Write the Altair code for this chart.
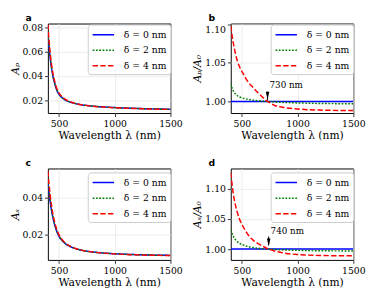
import altair as alt
import pandas as pd

# ---------------- data ----------------
wavelength = [400, 410, 420, 430, 445, 460, 480, 500, 530, 560, 600, 650, 700,
              730, 740, 800, 900, 1000, 1100, 1200, 1300, 1400, 1500]
series_labels = ["δ = 0 nm", "δ = 2 nm", "δ = 4 nm"]
series_colors = ["#0000ff", "#008000", "#ff0000"]
series_dashes = [[1, 0], [1.8, 1.6], [5.5, 2.4]]
x_ticks = [500, 1000, 1500]

# panel a: A_p
ap_d0 = [0.0752, 0.0640, 0.0553, 0.0482, 0.0400, 0.0343, 0.0285, 0.0250, 0.0220, 0.0201, 0.0186, 0.0173,
         0.0164, 0.0160, 0.0159, 0.0153, 0.0146, 0.0141, 0.0137, 0.0134, 0.0131, 0.0129, 0.0127]
ap_d2 = [0.07693, 0.06515, 0.05610, 0.04877, 0.04037, 0.03455, 0.02867, 0.02512, 0.02208, 0.02015, 0.01863,
         0.01732, 0.01640, 0.01600, 0.01590, 0.01529, 0.01458, 0.01407, 0.01367, 0.01337, 0.01306, 0.01286, 0.01266]
ap_d4 = [0.08257, 0.06957, 0.05961, 0.05157, 0.04240, 0.03608, 0.02977, 0.02598, 0.02268, 0.02059, 0.01893,
         0.01748, 0.01646, 0.01600, 0.01589, 0.01522, 0.01448, 0.01396, 0.01355, 0.01325, 0.01295, 0.01275, 0.01255]

# panel b: A_p / A_0
rb_d0 = [1.0] * 23
rb_d2 = [1.0230, 1.0180, 1.0145, 1.0118, 1.0092, 1.0074, 1.0058, 1.0047, 1.0035, 1.0026, 1.0017, 1.0009,
         1.0003, 1.0000, 0.9999, 0.9992, 0.9986, 0.9981, 0.9977, 0.9974, 0.9972, 0.9971, 0.9970]
rb_d4 = [1.0980, 1.0870, 1.0780, 1.0700, 1.0600, 1.0520, 1.0445, 1.0390, 1.0310, 1.0245, 1.0180, 1.0105,
         1.0036, 1.0000, 0.9992, 0.9945, 0.9917, 0.9902, 0.9893, 0.9888, 0.9885, 0.9883, 0.9882]

# panel c: A_s
as_d0 = [0.0486, 0.0430, 0.0382, 0.0341, 0.0292, 0.0254, 0.0216, 0.0189, 0.0164, 0.0147, 0.0133, 0.0121,
         0.0113, 0.0109, 0.0108, 0.0103, 0.0097, 0.0093, 0.0090, 0.0088, 0.0086, 0.0085, 0.0084]
as_d2 = [0.05016, 0.04416, 0.03906, 0.03474, 0.02964, 0.02570, 0.02181, 0.01905, 0.01649, 0.01476, 0.01333,
         0.01212, 0.01131, 0.01090, 0.01080, 0.01029, 0.00969, 0.00928, 0.00898, 0.00878, 0.00858, 0.00847, 0.00837]
as_d4 = [0.05477, 0.04773, 0.04185, 0.03696, 0.03126, 0.02692, 0.02266, 0.01967, 0.01691, 0.01503, 0.01350,
         0.01220, 0.01134, 0.01091, 0.01080, 0.01026, 0.00963, 0.00922, 0.00891, 0.00871, 0.00851, 0.00841, 0.00831]

# panel d: A_s / A_0
rd_d0 = [1.0] * 23
rd_d2 = [1.0320, 1.0270, 1.0225, 1.0188, 1.0150, 1.0120, 1.0095, 1.0077, 1.0055, 1.0040, 1.0026, 1.0013,
         1.0005, 1.0002, 1.0000, 0.9993, 0.9985, 0.9980, 0.9976, 0.9973, 0.9971, 0.9970, 0.9969]
rd_d4 = [1.1270, 1.1100, 1.0955, 1.0840, 1.0705, 1.0600, 1.0490, 1.0410, 1.0310, 1.0225, 1.0150, 1.0085,
         1.0035, 1.0007, 1.0000, 0.9965, 0.9928, 0.9910, 0.9900, 0.9894, 0.9891, 0.9889, 0.9888]

# annotations (crossing wavelength, arrow tip / tail, text baseline)
ann_b = {"wl": [730], "tip": [1.0013], "tail": [1.0127], "head": [1.0075], "ty": [1.0171], "label": ["730 nm"]}
ann_d = {"wl": [740], "tip": [1.0065], "tail": [1.0210], "head": [1.0110], "ty": [1.0253], "label": ["740 nm"]}

panel_letters = ["a", "b", "c", "d"]

SERIF = "DejaVu Serif"


def panel(vals, ydomain, yticks, ytitle, letter, legend_y, height, ann=None, yflush=False):
    df = pd.DataFrame({
        "wl": wavelength * 3,
        "val": vals[0] + vals[1] + vals[2],
        "series": [s for s in series_labels for _ in wavelength],
    })
    leg = alt.Legend(orient="none", legendX=41, legendY=legend_y, title=None)
    yaxis = alt.Axis(values=yticks, format=".2f", title=ytitle, labelFlush=2 if yflush else False)
    lines = alt.Chart(df).mark_line(strokeWidth=1.5, interpolate="monotone", clip=True).encode(
        x=alt.X("wl:Q", scale=alt.Scale(domain=[400, 1500], nice=False, zero=False),
                axis=alt.Axis(values=x_ticks, format="d", title="Wavelength λ (nm)", labelFlush=False)),
        y=alt.Y("val:Q", scale=alt.Scale(domain=ydomain, nice=False, zero=False), axis=yaxis),
        color=alt.Color("series:N", scale=alt.Scale(domain=series_labels, range=series_colors), legend=leg),
        strokeDash=alt.StrokeDash("series:N", scale=alt.Scale(domain=series_labels, range=series_dashes),
                                  legend=leg),
    )
    tag = alt.Chart(pd.DataFrame({"letter": [letter]})).mark_text(
        align="left", baseline="alphabetic", font="DejaVu Sans", fontWeight="bold", fontSize=9.5,
        color="black").encode(x=alt.value(-23), y=alt.value(-3), text="letter:N")
    layers = [lines, tag]
    if ann is not None:
        adf = pd.DataFrame(ann)
        rule = alt.Chart(adf).mark_rule(color="black", strokeWidth=1).encode(
            x="wl:Q", y="tail:Q", y2="tip:Q")
        head = alt.Chart(adf).mark_point(shape="M-0.45,-1L0.45,-1L0,1Z", filled=True, color="black",
                                         opacity=1, size=64).encode(x="wl:Q", y="head:Q")
        text = alt.Chart(adf).mark_text(align="left", baseline="alphabetic", dx=2, font=SERIF,
                                        fontSize=9, color="black").encode(x="wl:Q", y="ty:Q", text="label:N")
        layers += [rule, head, text]
    return alt.layer(*layers).properties(width=126, height=height)


pa = panel([ap_d0, ap_d2, ap_d4], [0.0096, 0.0832], [0.02, 0.04, 0.06, 0.08], "Aₚ", panel_letters[0], 1, 92)
pb = panel([rb_d0, rb_d2, rb_d4], [0.985, 1.101], [1.00, 1.05, 1.10], "Aₚ/A₀", panel_letters[1], 1, 92,
           ann_b, yflush=True)
pc = panel([as_d0, as_d2, as_d4], [0.0059, 0.0562], [0.02, 0.04], "Aₛ", panel_letters[2], 4, 94)
pd_ = panel([rd_d0, rd_d2, rd_d4], [0.982, 1.134], [1.00, 1.05, 1.10], "Aₛ/A₀", panel_letters[3], 4, 94, ann_d)

chart = alt.concat(pa, pb, pc, pd_, columns=2, spacing={"row": 57, "column": 62}, bounds="flush").resolve_scale(
    color="independent", strokeDash="independent"
).properties(
    padding={"left": 0, "top": 0, "right": 0, "bottom": 0}
).configure_view(
    stroke="black", strokeWidth=1
).configure_axis(
    domain=False, grid=True, gridColor="#e8e8e8", gridWidth=0.8,
    tickColor="black", tickSize=3.5, tickWidth=0.8,
    labelFont=SERIF, labelFontSize=9.5, labelColor="black", labelPadding=2,
    titleFont=SERIF, titleFontSize=11, titleFontWeight="normal", titleColor="black",
).configure_axisX(
    titlePadding=2
).configure_axisY(
    titlePadding=2, titleFontStyle="italic"
).configure_legend(
    symbolType="M-1,0H3", symbolSize=121, symbolStrokeWidth=1.5, symbolFillColor="transparent",
    labelFont=SERIF, labelFontSize=9.5, labelColor="black", labelOffset=20,
    rowPadding=5, padding=4, fillColor="white", strokeColor="#cccccc", cornerRadius=3,
)

chart.save("out.html", embed_options={"renderer": "svg", "actions": False})
